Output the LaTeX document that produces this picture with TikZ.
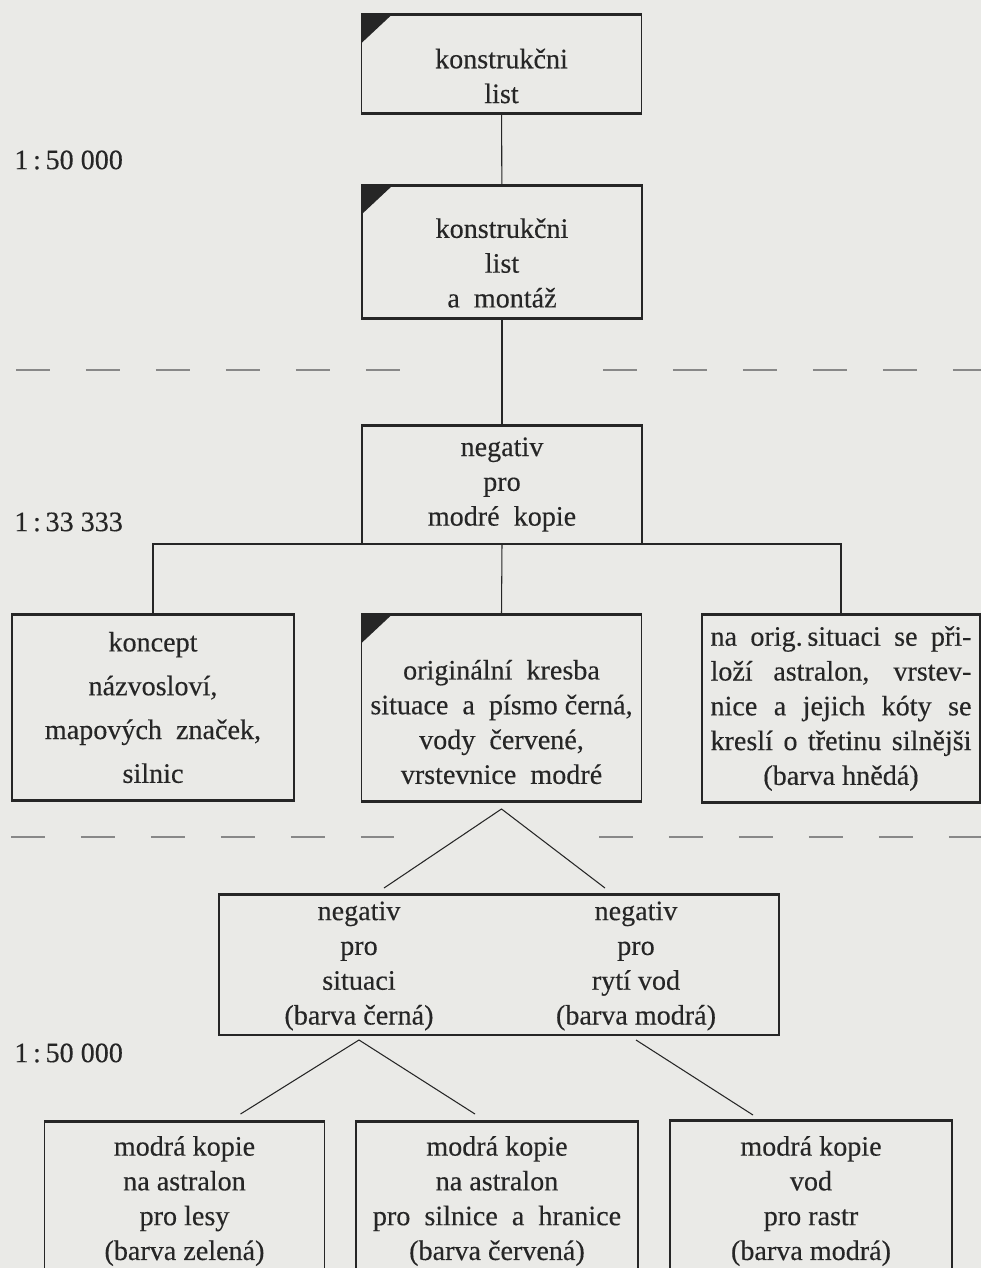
\documentclass[tikz,border=0pt]{standalone}
\usepackage{fontspec}
\setmainfont{Liberation Serif}
\newfontfamily\inkfont{Liberation Serif}[FakeBold=0.3]
\usetikzlibrary{calc}
\definecolor{paper}{RGB}{234,234,231}
\definecolor{ink}{RGB}{38,38,38}
\newcommand{\jline}[1]{\makebox[5.22cm][s]{#1}} % justified line of the right box
\tikzset{
box/.style={draw=ink, line width=1.1pt, minimum width=5.6cm, align=center, text=ink, inner sep=0pt, outer sep=0pt}, % frame of one step
sheet/.style={path picture={\fill[ink] (path picture bounding box.north west) -- ++(0.62cm,0) -- ++(-0.62cm,-0.58cm) -- cycle;}}, % dark corner of a drawn sheet
txt/.style={align=center, text=ink, inner sep=0pt},
scalelabel/.style={anchor=west, text=ink, inner sep=0pt},
wire/.style={draw=ink, line width=0.6pt},
edgerule/.style={draw=ink, line width=1.7pt}, % heavy top and bottom edges
dashline/.style={draw=ink!55, line width=1pt, dash pattern=on 0.68cm off 0.72cm}
}

\begin{document}
\begin{tikzpicture}[x=0.02cm, y=-0.02cm, font=\inkfont\fontsize{16}{19.8}\selectfont]
\useasboundingbox (0,0) rectangle (981,1268);
\clip (0,0) rectangle (981,1268);
\fill[paper] (0,0) rectangle (981,1268);

% scales
\node[scalelabel] (m1) at (14,160) {1\,:\,50 000};
\node[scalelabel] (m2) at (14,522) {1\,:\,33 333};
\node[scalelabel] (m3) at (14,1053) {1\,:\,50 000};

% separators
\draw[dashline] (16,370) -- (400,370);
\draw[dashline] (603,370) -- (981,370);
\draw[dashline] (11,837) -- (394,837);
\draw[dashline] (599,837) -- (981,837);

% steps
\node[box, sheet, minimum height=2cm] (k1) at (501.5,64) {};
\node[txt] (k1text) at ($(k1)+(0,12)$) {konstrukčni\\list};
\node[box, sheet, minimum height=2.68cm] (k2) at (502,252) {};
\node[txt] (k2text) at ($(k2)+(0,11)$) {konstrukčni\\list\\a~ montáž};
\node[box, minimum height=2.38cm] (neg) at (502,484.5) {negativ\\pro\\modré~ kopie};

\node[box, minimum width=5.64cm, minimum height=3.74cm] (koncept) at (153,707.5)
  {koncept\\[0.18cm]názvosloví,\\[0.18cm]mapových~ značek,\\[0.18cm]silnic};
\node[box, sheet, minimum height=3.76cm] (orig) at (501.5,708) {};
\node[txt] (origtext) at ($(orig)+(0,14)$)
  {originální~ kresba\\situace~ a~ písmo černá,\\vody~ červené,\\vrstevnice~ modré};
\node[box, minimum width=5.56cm, minimum height=3.78cm] (astr) at (841,708.5)
  {\jline{na orig.\,situaci se při-}\\\jline{loží astralon, vrstev-}\\\jline{nice a jejich kóty se}\\\jline{kreslí o třetinu silnějši}\\(barva hnědá)};

\node[box, minimum width=11.2cm, minimum height=2.82cm] (negs) at (499,964.5) {};
\node[txt] (negsit) at (359,966) {negativ\\pro\\situaci\\(barva černá)};
\node[txt] (negvod) at (636,966) {negativ\\pro\\rytí vod\\(barva modrá)};

\node[box, minimum height=3.2cm] (b1) at (184.5,1201) {modrá kopie\\na astralon\\pro lesy\\(barva zelená)};
\node[box, minimum width=5.64cm, minimum height=3.2cm] (b2) at (497,1201) {modrá kopie\\na astralon\\pro~ silnice~ a~ hranice\\(barva červená)};
\node[box, minimum width=5.64cm, minimum height=3.24cm] (b3) at (811,1201) {modrá kopie\\vod\\pro rastr\\(barva modrá)};

\foreach \b in {k1,k2,neg,koncept,orig,astr,negs,b1,b2,b3}
  \draw[edgerule] (\b.north west) -- (\b.north east) (\b.south west) -- (\b.south east);

% connectors
\draw[wire] (k1) -- (k2);
\draw[wire] (k2) -- (neg);
\draw[wire] (koncept.north) |- (neg.south) -| (astr.north);
\draw[wire] (neg.south) -- (orig.north);
\draw[edgerule] (koncept.north |- neg.south) -- (astr.north |- neg.south);

\coordinate (apex) at ($(orig.south)+(0,7)$);
\coordinate (sitend) at ($(negs.north)+(-115,-6)$);
\coordinate (vodend) at ($(negs.north)+(106,-6)$);
\draw[wire] (sitend) -- (apex) -- (vodend);

\coordinate (sitfoot) at ($(negsit |- negs.south)+(0,5)$);
\coordinate (vodfoot) at ($(negvod |- negs.south)+(0,5)$);
\coordinate (b1tip) at ($(b1.north)+(56,-7)$);
\coordinate (b2tip) at ($(b2.north)+(-22,-7)$);
\coordinate (b3tip) at ($(b3.north)+(-58,-5)$);
\draw[wire] (b1tip) -- (sitfoot) -- (b2tip);
\draw[wire] (vodfoot) -- (b3tip);
\end{tikzpicture}
\end{document}
